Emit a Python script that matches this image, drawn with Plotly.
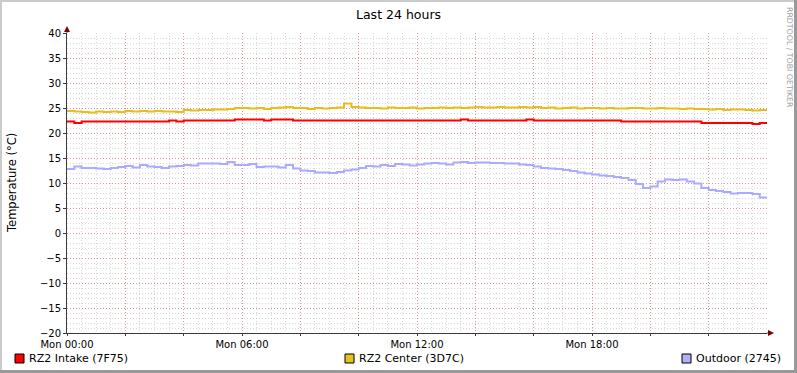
import plotly.graph_objects as go

# ---------------- data ----------------
# samples every 15 minutes from Mon 00:00 to Tue 00:00 (hours since start)
HOURS = [i * 0.25 for i in range(97)]

RZ2_INTAKE = [
    22.3, 22.0, 22.3, 22.3, 22.3, 22.3, 22.3, 22.3, 22.3, 22.3, 22.3, 22.3, 22.3, 22.3, 22.5, 22.3,
    22.5, 22.5, 22.5, 22.5, 22.5, 22.5, 22.5, 22.7, 22.7, 22.7, 22.7, 22.5, 22.7, 22.7, 22.7, 22.5,
    22.5, 22.5, 22.5, 22.5, 22.5, 22.5, 22.5, 22.5, 22.5, 22.5, 22.5, 22.5, 22.5, 22.5, 22.5, 22.5,
    22.5, 22.5, 22.5, 22.5, 22.5, 22.5, 22.7, 22.5, 22.5, 22.5, 22.5, 22.5, 22.5, 22.5, 22.5, 22.7,
    22.5, 22.5, 22.5, 22.5, 22.5, 22.5, 22.5, 22.5, 22.5, 22.5, 22.5, 22.5, 22.3, 22.3, 22.3, 22.3,
    22.3, 22.3, 22.3, 22.3, 22.3, 22.3, 22.3, 22.0, 22.0, 22.0, 22.0, 22.0, 22.0, 22.0, 21.8, 22.0,
    21.8,
]

RZ2_CENTER = [
    24.4, 24.3, 24.2, 24.1, 24.3, 24.2, 24.3, 24.2, 24.4, 24.3, 24.4, 24.3, 24.4, 24.3, 24.3, 24.2,
    24.6, 24.5, 24.6, 24.6, 24.7, 24.7, 24.8, 25.0, 25.0, 24.9, 25.0, 24.8, 25.0, 25.1, 25.2, 25.0,
    25.0, 24.8, 25.0, 24.9, 25.0, 25.1, 25.9, 25.2, 25.1, 25.0, 25.0, 24.9, 25.1, 25.0, 25.0, 25.1,
    24.9, 25.0, 25.0, 25.1, 25.0, 25.1, 25.0, 25.1, 25.2, 25.1, 25.1, 25.2, 25.1, 25.1, 25.2, 25.1,
    25.2, 25.0, 25.1, 24.9, 25.0, 25.1, 24.9, 25.0, 25.0, 24.9, 25.0, 24.9, 24.9, 25.0, 25.0, 24.9,
    24.9, 25.0, 24.9, 24.9, 24.8, 24.9, 24.8, 24.8, 24.7, 24.8, 24.6, 24.7, 24.7, 24.6, 24.5, 24.6,
    24.5,
]

OUTDOOR = [
    12.8, 13.3, 13.0, 13.0, 12.9, 12.8, 13.0, 13.2, 13.4, 13.1, 13.6, 13.3, 13.2, 13.0, 13.3, 13.4,
    13.6, 13.5, 13.9, 13.9, 13.9, 13.8, 14.2, 13.6, 13.6, 13.8, 13.2, 13.3, 13.3, 13.1, 13.6, 12.9,
    12.5, 12.4, 12.1, 12.1, 12.0, 12.2, 12.5, 12.7, 13.0, 13.4, 13.3, 13.6, 13.4, 13.8, 13.7, 13.5,
    13.7, 13.9, 14.0, 13.9, 13.7, 14.1, 14.2, 14.0, 14.1, 14.1, 14.0, 14.0, 13.9, 13.9, 13.7, 13.6,
    13.3, 13.0, 12.9, 12.8, 12.6, 12.4, 12.1, 11.9, 11.7, 11.5, 11.4, 11.2, 11.0, 10.6, 9.8, 9.0,
    9.3, 10.3, 10.7, 10.6, 10.7, 10.3, 9.9, 9.0, 8.6, 8.4, 8.2, 7.9, 8.0, 8.0, 7.8, 7.1,
    6.8,
]

SERIES_NAMES = ["RZ2 Intake (7F75)", "RZ2 Center (3D7C)", "Outdoor (2745)"]
SERIES_COLORS = ["#FF0000", "#E8BE1C", "#AAAAFF"]
LEGEND_BOX_COLORS = ["#FF0000", "#EAC01E", "#B0B0FF"]

X_TICK_VALUES = [0, 2, 4, 6, 8, 10, 12, 14, 16, 18, 20, 22]
X_TICK_LABELS = ["Mon 00:00", "", "", "Mon 06:00", "", "", "Mon 12:00", "", "", "Mon 18:00", "", ""]
Y_TICK_VALUES = [-20, -15, -10, -5, 0, 5, 10, 15, 20, 25, 30, 35, 40]

TITLE = "Last 24 hours"
Y_TITLE = "Temperature (°C)"
WATERMARK = "RRDTOOL / TOBI OETIKER"

# ---------------- layout helpers ----------------
W, H = 797, 373
L, R, T, B = 67, 767, 33, 333   # plot area in pixels
FONT = "DejaVu Sans"


def px(xp):
    return (xp - L) / (R - L)


def py(yp):
    return (B - yp) / (B - T)


fig = go.Figure()
for name, vals, col in zip(SERIES_NAMES, [RZ2_INTAKE, RZ2_CENTER, OUTDOOR], SERIES_COLORS):
    fig.add_trace(go.Scatter(x=HOURS, y=vals, name=name, mode="lines",
                             line=dict(color=col, width=2, shape="hv")))

MGRID = "rgba(222,48,48,0.38)"
GRID = "rgba(143,143,143,0.35)"
DOTS = "1px,2px"

fig.update_layout(
    width=W, height=H,
    margin=dict(l=L, r=W - R, t=T, b=H - B, pad=0),
    paper_bgcolor="#FFFFFF", plot_bgcolor="#FFFFFF",
    showlegend=False,
    font=dict(family=FONT, size=10, color="#000000"),
    xaxis=dict(
        range=[0, 24], tickmode="array", tickvals=X_TICK_VALUES, ticktext=X_TICK_LABELS,
        showgrid=True, gridcolor=MGRID, griddash=DOTS, gridwidth=1,
        minor=dict(tickmode="linear", tick0=0, dtick=0.5, showgrid=True,
                   gridcolor=GRID, griddash=DOTS, gridwidth=1),
        showline=True, linecolor="#3A3A3A", linewidth=1,
        ticks="outside", ticklen=2, tickcolor="#3A3A3A",
        zeroline=False, tickfont=dict(size=10, family=FONT),
        fixedrange=True,
    ),
    yaxis=dict(
        range=[-20, 40], tickmode="array", tickvals=Y_TICK_VALUES,
        showgrid=True, gridcolor=MGRID, griddash=DOTS, gridwidth=1,
        minor=dict(tickmode="linear", tick0=0, dtick=1, showgrid=True,
                   gridcolor=GRID, griddash=DOTS, gridwidth=1),
        showline=True, linecolor="#3A3A3A", linewidth=1,
        ticks="outside", ticklen=3, tickcolor="#3A3A3A",
        zeroline=False, tickfont=dict(size=10, family=FONT),
        fixedrange=True,
    ),
)

shapes = []
# frame (3D shade like RRDtool)
shapes.append(dict(type="line", xref="paper", yref="paper", x0=px(0), x1=px(W), y0=py(1), y1=py(1),
                   line=dict(color="#CBCBCB", width=2)))
shapes.append(dict(type="line", xref="paper", yref="paper", x0=px(1), x1=px(1), y0=py(0), y1=py(H),
                   line=dict(color="#CBCBCB", width=2)))
shapes.append(dict(type="line", xref="paper", yref="paper", x0=px(0), x1=px(W), y0=py(H - 1.5), y1=py(H - 1.5),
                   line=dict(color="#999999", width=3)))
shapes.append(dict(type="line", xref="paper", yref="paper", x0=px(W - 1.5), x1=px(W - 1.5), y0=py(0), y1=py(H),
                   line=dict(color="#999999", width=3)))
# axis extensions and arrows
shapes.append(dict(type="line", xref="paper", yref="paper", x0=px(R), x1=px(770), y0=py(B), y1=py(B),
                   line=dict(color="#3A3A3A", width=1)))
shapes.append(dict(type="path", xref="paper", yref="paper",
                   path=f"M {px(774)} {py(B)} L {px(768)} {py(B - 3)} L {px(768)} {py(B + 3)} Z",
                   fillcolor="#7F0000", line=dict(color="#7F0000", width=0)))
shapes.append(dict(type="line", xref="paper", yref="paper", x0=px(L), x1=px(L), y0=py(T), y1=py(30),
                   line=dict(color="#3A3A3A", width=1)))
shapes.append(dict(type="path", xref="paper", yref="paper",
                   path=f"M {px(L)} {py(26)} L {px(L - 3)} {py(32)} L {px(L + 3)} {py(32)} Z",
                   fillcolor="#7F0000", line=dict(color="#7F0000", width=0)))

annotations = []
annotations.append(dict(text=TITLE, xref="paper", yref="paper", x=px(398), y=py(14),
                        showarrow=False, xanchor="center", yanchor="middle",
                        font=dict(family=FONT, size=12.5, color="#000000")))
annotations.append(dict(text=Y_TITLE, xref="paper", yref="paper", x=px(12), y=py(183),
                        showarrow=False, xanchor="center", yanchor="middle", textangle=-90,
                        font=dict(family=FONT, size=11.5, color="#000000")))
annotations.append(dict(text=WATERMARK, xref="paper", yref="paper", x=px(789), y=py(57),
                        showarrow=False, xanchor="center", yanchor="middle", textangle=90,
                        font=dict(family=FONT, size=7.8, color="#A0A0A0")))

# legend (RRDtool style boxes + text)
legend_box_x = [15, 345, 682]
legend_text_x = [27, 357, 694]
for bx, tx, name, col in zip(legend_box_x, legend_text_x, SERIES_NAMES, LEGEND_BOX_COLORS):
    shapes.append(dict(type="rect", xref="paper", yref="paper",
                       x0=px(bx), x1=px(bx + 9), y0=py(363), y1=py(354),
                       fillcolor=col, line=dict(color="#000000", width=1)))
    annotations.append(dict(text=name, xref="paper", yref="paper", x=px(tx), y=py(358.5),
                            showarrow=False, xanchor="left", yanchor="middle",
                            font=dict(family=FONT, size=11, color="#000000")))

fig.update_layout(shapes=shapes, annotations=annotations)

fig.write_html("out.html", config={"displayModeBar": False},
               post_script="document.body.style.margin='0';document.body.style.padding='0';")
